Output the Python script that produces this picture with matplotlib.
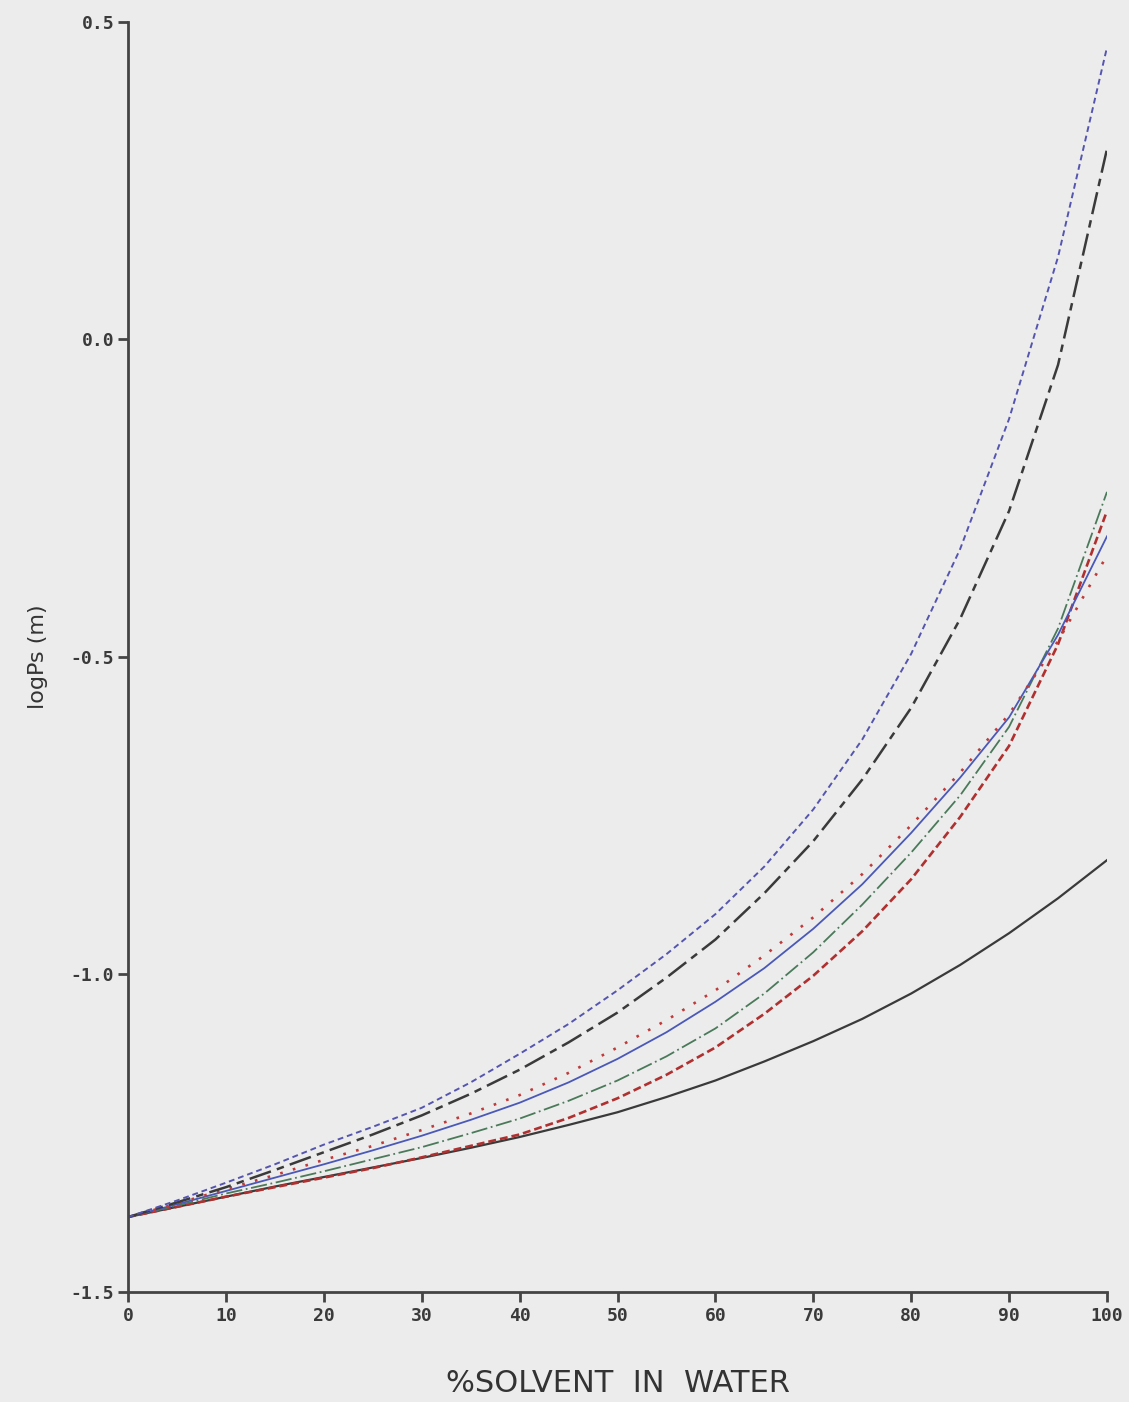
import numpy as np
import matplotlib
matplotlib.use('Agg')
import matplotlib.pyplot as plt

# percent solvent in water
solvent = [0, 5, 10, 15, 20, 25, 30, 35, 40, 45, 50, 55, 60, 65, 70, 75, 80, 85, 90, 95, 100]

# logPs (m) for each curve
blue_dashed = [-1.382, -1.356, -1.328, -1.299, -1.268, -1.240, -1.210, -1.170, -1.125, -1.078, -1.025,
               -0.968, -0.905, -0.830, -0.740, -0.630, -0.495, -0.330, -0.125, 0.130, 0.460]
black_longdash = [-1.382, -1.359, -1.335, -1.308, -1.280, -1.252, -1.222, -1.188, -1.150, -1.107, -1.060,
                  -1.005, -0.945, -0.872, -0.790, -0.693, -0.580, -0.440, -0.270, -0.040, 0.300]
red_dotted = [-1.382, -1.361, -1.338, -1.316, -1.292, -1.270, -1.245, -1.219, -1.190, -1.155, -1.115,
              -1.072, -1.025, -0.970, -0.910, -0.842, -0.765, -0.682, -0.590, -0.475, -0.340]
blue_solid = [-1.382, -1.362, -1.341, -1.320, -1.299, -1.277, -1.254, -1.229, -1.202, -1.170, -1.133,
              -1.091, -1.043, -0.990, -0.928, -0.858, -0.777, -0.690, -0.595, -0.465, -0.310]
green_dashdot = [-1.382, -1.364, -1.345, -1.328, -1.310, -1.291, -1.272, -1.250, -1.227, -1.199, -1.167,
                 -1.129, -1.085, -1.030, -0.965, -0.890, -0.808, -0.718, -0.610, -0.455, -0.240]
red_dashed = [-1.382, -1.366, -1.350, -1.335, -1.320, -1.305, -1.288, -1.270, -1.252, -1.226, -1.195,
              -1.158, -1.115, -1.062, -1.002, -0.932, -0.850, -0.752, -0.640, -0.480, -0.270]
black_solid = [-1.382, -1.366, -1.350, -1.334, -1.319, -1.304, -1.289, -1.273, -1.256, -1.237, -1.217,
               -1.193, -1.167, -1.137, -1.105, -1.070, -1.030, -0.985, -0.935, -0.880, -0.820]

bg = '#ececec'
fig = plt.figure(figsize=(11.29, 14.02), dpi=100, facecolor=bg)
ax = fig.add_axes([0.1134, 0.0785, 0.8671, 0.9058], facecolor=bg)

ax.plot(solvent, black_solid, color='#3a3a3a', lw=1.6)
ax.plot(solvent, red_dashed, color='#b03030', lw=1.9, dashes=(3, 1.5))
ax.plot(solvent, green_dashdot, color='#4a7a5a', lw=1.3, dashes=(9, 2, 1, 2))
ax.plot(solvent, blue_solid, color='#4a58b8', lw=1.3)
ax.plot(solvent, red_dotted, color='#c03a3a', lw=1.9, dashes=(1, 4))
ax.plot(solvent, black_longdash, color='#3a3a3a', lw=1.8, dashes=(9, 2.5, 3, 2.5))
ax.plot(solvent, blue_dashed, color='#5555b0', lw=1.4, dashes=(3, 2))

ax.set_xlim(0, 100)
ax.set_ylim(-1.5, 0.5)
ax.set_xticks(range(0, 101, 10))
ax.set_yticks([-1.5, -1.0, -0.5, 0.0, 0.5])
ax.set_yticklabels(['-1.5', '-1.0', '-0.5', '0.0', '0.5'])

for s in ['top', 'right']:
    ax.spines[s].set_visible(False)
for s in ['left', 'bottom']:
    ax.spines[s].set_color('#444444')
    ax.spines[s].set_linewidth(2)

ax.tick_params(direction='out', length=7, width=2, color='#444444', labelcolor='#3a3a3a')
ax.tick_params(axis='y', pad=3)
for lab in ax.get_xticklabels() + ax.get_yticklabels():
    lab.set_family('DejaVu Sans Mono')
    lab.set_fontweight('bold')
    lab.set_fontsize(13)

ax.set_xlabel('%SOLVENT  IN  WATER', fontsize=22, family='DejaVu Sans', color='#333333', labelpad=32)
ax.set_ylabel('logPs (m)', fontsize=16, family='DejaVu Sans', color='#333333', labelpad=16)

fig.savefig('out.png', dpi=100, facecolor=bg)
